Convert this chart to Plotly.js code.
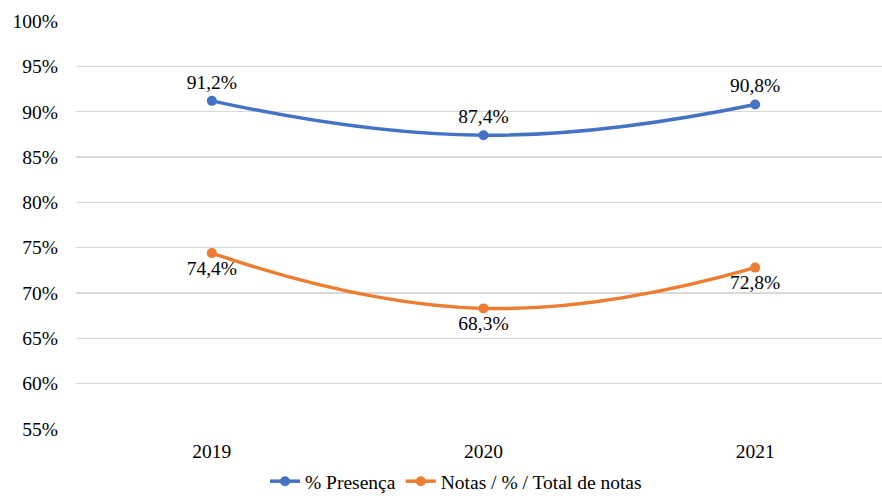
<!DOCTYPE html>
<html>
<head>
<meta charset="utf-8">
<script src="https://cdn.plot.ly/plotly-3.0.1.min.js"></script>
<style>html,body{margin:0;padding:0;background:#fff;}#chart{width:882px;height:501px;}
#chart svg text{font-family:'Liberation Serif','Times New Roman',serif !important;}</style>
</head>
<body>
<div id="chart"></div>
<script>
var years = ['2019', '2020', '2021'];
var presenca = [91.2, 87.4, 90.8];
var notas = [74.4, 68.3, 72.8];
var seriesNames = ['% Presença', 'Notas / % / Total de notas'];

var font = {family: 'Liberation Serif, Times New Roman, serif', size: 19.5, color: '#000'};

var traces = [
  {
    x: years, y: presenca, name: seriesNames[0], type: 'scatter', mode: 'lines+markers+text',
    line: {color: '#4472C4', width: 3.5, shape: 'spline', smoothing: 1.3},
    marker: {color: '#4472C4', size: 10},
    texttemplate: '%{y:.1f}%', textposition: 'top center',
    textfont: font, cliponaxis: false
  },
  {
    x: years, y: notas, name: seriesNames[1], type: 'scatter', mode: 'lines+markers+text',
    line: {color: '#ED7D31', width: 3.5, shape: 'spline', smoothing: 1.3},
    marker: {color: '#ED7D31', size: 10},
    texttemplate: '%{y:.1f}%', textposition: 'bottom center',
    textfont: font, cliponaxis: false
  }
];

var layout = {
  width: 882, height: 501,
  margin: {l: 76, r: 0, t: 21, b: 72},
  separators: ',.',
  font: font,
  paper_bgcolor: '#fff', plot_bgcolor: '#fff',
  showlegend: true,
  legend: {orientation: 'h', xref: 'container', x: 0.517, xanchor: 'center', yref: 'container', y: 0.0, yanchor: 'bottom', font: font, itemwidth: 30, traceorder: 'normal'},
  xaxis: {
    type: 'category', range: [-0.5, 2.467], showgrid: false, zeroline: false, showline: false,
    ticks: '', tickfont: font, ticklabelstandoff: 8, fixedrange: true
  },
  yaxis: {
    range: [54.99, 100.01], dtick: 5, tick0: 55, ticksuffix: '%', showgrid: true, gridcolor: '#d9d9d9', gridwidth: 1.3,
    zeroline: false, showline: false, ticks: '', tickfont: font, ticklabelstandoff: 17, fixedrange: true
  }
};

Plotly.newPlot('chart', traces, layout, {displayModeBar: false, staticPlot: true});
</script>
</body>
</html>
